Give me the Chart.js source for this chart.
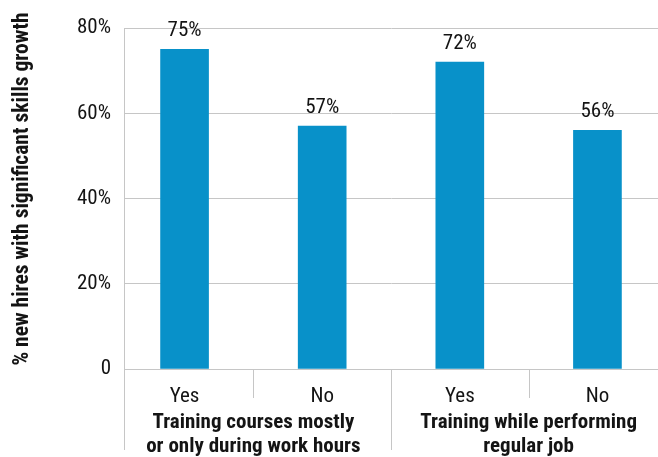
<!DOCTYPE html>
<html>
<head>
<meta charset="utf-8">
<script src="https://cdn.jsdelivr.net/npm/chart.js@4"></script>
<style>
  html, body { margin: 0; padding: 0; background: #fff; overflow: hidden; }
  #wrap { width: 658px; height: 457px; }
</style>
</head>
<body>
<div id="wrap"><canvas id="chart" width="658" height="457"></canvas></div>
<script>
// ===== Skills growth by training type =====

// Chart data
const subLabels = ["Yes", "No", "Yes", "No"];
const values = [75, 57, 72, 56];
const groupLabels = [
    ["Training courses mostly", "or only during work hours"],
    ["Training while performing", "regular job"]
];
const yTicks = [0, 20, 40, 60, 80];
const yTitle = "% new hires with significant skills growth";

const FONT = "'Roboto Condensed', 'Liberation Sans', sans-serif";
const TEXT = "#141414";
const LINE = "#c6c6c6";

// value labels, group labels, separators and y title
const extras = {
    id: "extras",
    afterDatasetsDraw(chart) {
        const ctx = chart.ctx;
        const x = chart.scales.x;
        const area = chart.chartArea;
        const meta = chart.getDatasetMeta(0);

        ctx.save();
        ctx.fillStyle = TEXT;
        ctx.font = "21px " + FONT;
        ctx.textAlign = "center";
        ctx.textBaseline = "alphabetic";
        meta.data.forEach((bar, i) => {
            ctx.fillText(values[i] + "%", bar.x, bar.y - 13.5);
        });

        // category separators
        ctx.strokeStyle = LINE;
        ctx.lineWidth = 1;
        const seps = [
            [area.left, 450],
            [x.getPixelForValue(0.5), 398],
            [x.getPixelForValue(1.5), 450],
            [x.getPixelForValue(2.5), 398]
        ];
        seps.forEach(([px, yEnd]) => {
            const xx = Math.round(px) + 0.5;
            ctx.beginPath();
            ctx.moveTo(xx, area.bottom);
            ctx.lineTo(xx, yEnd);
            ctx.stroke();
        });

        // group labels
        ctx.font = "bold 21px " + FONT;
        groupLabels.forEach((lines, g) => {
            const gx = x.getPixelForValue(g * 2 + 0.5);
            lines.forEach((txt, k) => {
                ctx.fillText(txt, gx, 428 + k * 24);
            });
        });

        // y title
        ctx.font = "bold 21.5px " + FONT;
        ctx.translate(23, 189);
        ctx.rotate(-Math.PI / 2);
        ctx.textBaseline = "middle";
        ctx.fillText(yTitle, 0, 0);
        ctx.restore();
    }
};

const ctx = document.getElementById("chart").getContext("2d");
new Chart(ctx, {
    type: "bar",
    data: {
        datasets: [{
            data: values.map((v, i) => ({ x: i, y: v })),
            backgroundColor: "#0891c9",
            barThickness: 48
        }]
    },
    options: {
        responsive: false,
        animation: false,
        layout: { padding: { top: 28, right: 0, left: 0, bottom: 0 } },
        plugins: {
            legend: { display: false },
            tooltip: { enabled: false }
        },
        scales: {
            x: {
                type: "linear",
                offset: false,
                min: -0.44,
                max: 3.44,
                afterBuildTicks: axis => {
                    axis.ticks = subLabels.map((_, i) => ({ value: i }));
                },
                afterFit: s => { s.height = 88; },
                grid: { display: false, drawTicks: false, offset: false },
                border: { display: true, color: LINE },
                ticks: {
                    callback: v => subLabels[v],
                    color: TEXT,
                    font: { family: FONT, size: 21 },
                    padding: 15,
                    maxRotation: 0,
                    autoSkip: false
                }
            },
            y: {
                min: 0,
                max: 80,
                afterBuildTicks: axis => {
                    axis.ticks = yTicks.map(v => ({ value: v }));
                },
                afterFit: s => { s.width = 124; },
                grid: { color: LINE, drawTicks: false },
                border: { display: true, color: LINE },
                ticks: {
                    callback: v => v === 0 ? "0" : v + "%",
                    color: TEXT,
                    font: { family: FONT, size: 21 },
                    padding: 13
                }
            }
        }
    },
    plugins: [extras]
});
</script>
</body>
</html>
